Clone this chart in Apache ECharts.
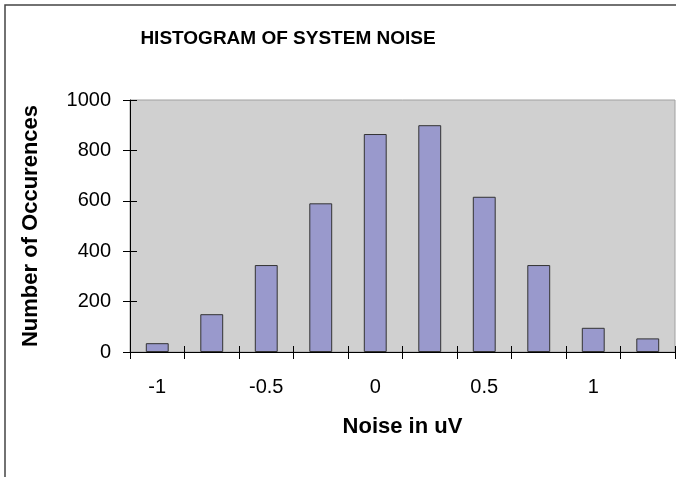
<!DOCTYPE html>
<html>
<head>
<meta charset="utf-8">
<script src="https://cdn.jsdelivr.net/npm/echarts@6/dist/echarts.min.js"></script>
<style>
html,body{margin:0;padding:0;background:#fff;}
#chart{width:676px;height:477px;}
</style>
</head>
<body>
<div id="chart"></div>
<script>
var titleText = 'HISTOGRAM OF SYSTEM NOISE';
var xAxisTitle = 'Noise in uV';
var yAxisTitle = 'Number of Occurences';
var categories = ['-1', '-0.75', '-0.5', '-0.25', '0', '0.25', '0.5', '0.75', '1', '1.25'];
var counts = [35, 150, 345, 590, 865, 900, 616, 345, 96, 54];
var yMin = 0, yMax = 1000, yStep = 200;

var FONT = '"Liberation Sans", Arial, sans-serif';
var chart = echarts.init(document.getElementById('chart'), null, {renderer: 'canvas'});
chart.setOption({
  animation: false,
  backgroundColor: '#ffffff',
  title: {
    text: titleText,
    left: 283, top: 24, textAlign: 'center',
    textStyle: {fontFamily: FONT, fontSize: 19, fontWeight: 'bold', color: '#000'}
  },
  graphic: [{
    type: 'rect', silent: true, z: -10,
    shape: {x: 5, y: 5, width: 1000, height: 1000},
    style: {fill: 'none', stroke: '#444', lineWidth: 1.5}
  }],
  grid: {
    left: 130, right: 1, top: 100, bottom: 125,
    containLabel: false, outerBoundsMode: 'none',
    show: true, backgroundColor: '#d0d0d0', borderColor: '#a0a0a0', borderWidth: 1
  },
  xAxis: [{
    type: 'category', data: categories, position: 'bottom', z: 10,
    name: xAxisTitle, nameLocation: 'middle', nameGap: 64,
    nameTextStyle: {fontFamily: FONT, fontSize: 22, fontWeight: 'bold', color: '#000'},
    axisLine: {show: true, lineStyle: {color: '#000', width: 1}},
    axisTick: {show: true, inside: false, length: 7, interval: 0, alignWithLabel: false, lineStyle: {color: '#000'}},
    axisLabel: {show: true, interval: 1, margin: 25, fontFamily: FONT, fontSize: 20, color: '#000', hideOverlap: false},
    splitLine: {show: false}
  }, {
    type: 'category', data: categories, position: 'bottom', z: 10,
    axisLine: {show: false},
    axisTick: {show: true, inside: true, length: 6, interval: 0, lineStyle: {color: '#000', width: 1}},
    axisLabel: {show: false},
    splitLine: {show: false}
  }],
  yAxis: [{
    type: 'value', min: yMin, max: yMax, interval: yStep, position: 'left', z: 10,
    name: yAxisTitle, nameLocation: 'middle', nameGap: 88, nameRotate: 90,
    nameTextStyle: {fontFamily: FONT, fontSize: 22, fontWeight: 'bold', color: '#000'},
    axisLine: {show: true, lineStyle: {color: '#000', width: 1}},
    axisTick: {show: true, inside: false, length: 7, lineStyle: {color: '#000'}},
    axisLabel: {show: true, margin: 19, fontFamily: FONT, fontSize: 20, color: '#000',
      formatter: function (v) { return String(v); }},
    splitLine: {show: false}
  }, {
    type: 'value', min: yMin, max: yMax, interval: yStep, position: 'left', z: 10,
    axisLine: {show: false},
    axisTick: {show: true, inside: true, length: 7, lineStyle: {color: '#000', width: 1}},
    axisLabel: {show: false},
    splitLine: {show: false}
  }],
  series: [{
    type: 'bar', xAxisIndex: 0, yAxisIndex: 0,
    data: counts, barWidth: '42%',
    itemStyle: {color: '#9999cc', borderColor: '#333', borderWidth: 1}
  }, {
    type: 'line', xAxisIndex: 1, yAxisIndex: 1, silent: true,
    data: counts, showSymbol: false, symbol: 'none',
    lineStyle: {opacity: 0, width: 0}, tooltip: {show: false}
  }]
});
</script>
</body>
</html>
